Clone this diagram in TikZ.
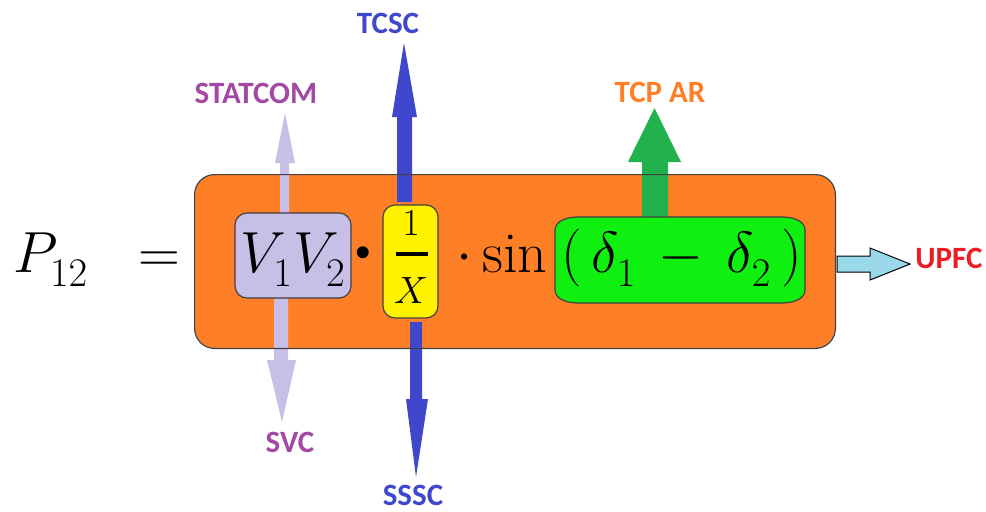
\RequirePackage{fix-cm}
\documentclass[tikz,border=0pt]{standalone}
\usepackage{fontspec}
\newfontfamily\labfont{Carlito}
\usetikzlibrary{calc}
\definecolor{orng}{HTML}{FF7F27}
\definecolor{lav}{HTML}{C8BFE7}
\definecolor{ylw}{HTML}{FFF200}
\definecolor{grn}{HTML}{22B14C}
\definecolor{limeg}{HTML}{10F010}
\definecolor{indg}{HTML}{3F48CC}
\definecolor{turq}{HTML}{99D9EA}
\definecolor{purp}{HTML}{A349A4}
\definecolor{redc}{HTML}{ED1C24}
\newcommand\lsub[1]{_{\raisebox{-3pt}{$\scriptstyle #1$}}}
\begin{document}
\begin{tikzpicture}[x=0.5pt,y=-0.5pt,
  lab/.style={font={\labfont\bfseries\fontsize{15.5}{17}\selectfont}, inner sep=0pt, anchor=base},
  mth/.style={font={\fontsize{29}{34}\selectfont}, inner sep=0pt, anchor=base},
  box/.style={draw=black!75, line width=0.6pt}]
\useasboundingbox (0,0) rectangle (986,511);
% outer orange box (fill)
\node (outer) [rectangle, rounded corners=10pt, fill=orng, minimum width=320pt, minimum height=86.5pt, inner sep=0pt] at (515,261.5) {};
% arrows
\fill[lav] (280,230) -- (280,163) -- (275,163) -- (285,113) -- (295,163) -- (289,163) -- (289,230) -- cycle;
\fill[lav] (274,280) -- (274,360) -- (267,360) -- (282,422) -- (296,360) -- (288,360) -- (288,280) -- cycle;
\fill[indg] (397,202) -- (397,117) -- (392,117) -- (404,43) -- (417,117) -- (412,117) -- (412,202) -- cycle;
\fill[indg] (410,322) -- (410,399) -- (406,399) -- (416,477) -- (428,399) -- (422,399) -- (422,322) -- cycle;
\fill[grn] (642,225) -- (642,162) -- (628,162) -- (654.5,108) -- (681,162) -- (668,162) -- (668,225) -- cycle;
\draw[black, line width=0.5pt, fill=turq] (837,256) -- (870,256) -- (870,248) -- (910,264) -- (870,280) -- (870,272) -- (837,272) -- cycle;
% outer border
\draw[box, rounded corners=10pt] (outer.north west) rectangle (outer.south east);
% inner boxes
\node (lavbox) [box, rectangle, rounded corners=6pt, fill=lav, minimum width=58pt, minimum height=42.5pt, inner sep=0pt] at (293,255.5) {};
\node (ylwbox) [box, rectangle, rounded corners=6pt, fill=ylw, minimum width=27.5pt, minimum height=56.5pt, inner sep=0pt] at (410.5,261.5) {};
\draw[box, fill=limeg] (578,217) -- (782,217) .. controls (795,217) and (805,222) .. (805,230) -- (805,290) .. controls (805,298) and (795,303) .. (782,303) -- (578,303) .. controls (565,303) and (555,298) .. (555,290) -- (555,230) .. controls (555,222) and (565,217) .. (578,217) -- cycle;
% formula
\node[mth, anchor=base west] (p12) at (13,272) {$P\lsub{12}$};
\node[mth] (eq) at (159,272) {$=$};
\node[mth] (v1v2) at (293,272) {$V\lsub{1}V\lsub{2}$};
\node[inner sep=0pt, anchor=base, font={\fontsize{15.5}{16}\selectfont}] (dot1) at (363,260) {$\bullet$};
\node[inner sep=0pt, anchor=base, font={\fontsize{19}{20}\selectfont}] (num) at (411,235) {$1$};
\coordinate (barl) at (396,254);
\coordinate (barr) at (428,254);
\draw[line width=2pt] (barl) -- (barr);
\node[inner sep=0pt, anchor=base, font={\fontsize{19}{20}\selectfont}] (den) at (411,303) {$X$};
\node[mth] (dot2) at (465,271.5) {$\cdot$};
\node[mth, anchor=base west] (sin) at (482,272) {$\sin$};
\node[mth] (arg) at (681.5,272) {$(\,\delta\lsub{1}\,-\,\delta\lsub{2}\,)$};
% labels
\node[lab, text=purp] (statcom) at (256,103) {STATCOM};
\node[lab, text=indg] (tcsc) at (388,33) {TCSC};
\node[lab, text=purp] (svc) at (290,452) {SVC};
\node[lab, text=indg] (sssc) at (413,505) {SSSC};
\node[lab, text=orng] (tcpar) at (660,102) {TCP AR};
\node[lab, anchor=base west, text=redc] (upfc) at (915,268) {UPFC};
\end{tikzpicture}
\end{document}
